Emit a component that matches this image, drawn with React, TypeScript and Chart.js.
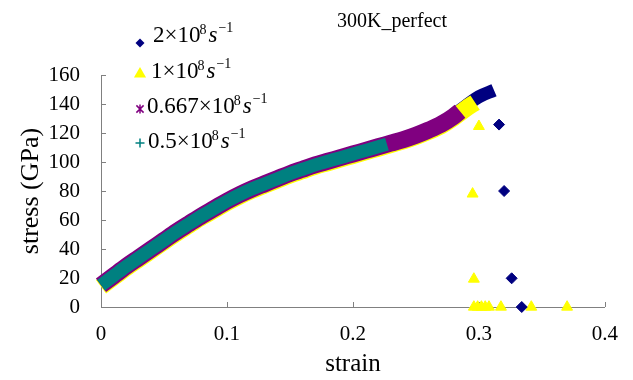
import React, { useEffect, useRef } from 'react';
import { Chart, registerables } from 'chart.js';

Chart.register(...registerables);

const FONT = '"Liberation Serif", "Times New Roman", serif';

const chartTitle = '300K_perfect';
const xAxisTitle = 'strain';
const yAxisTitle = 'stress (GPa)';
const xTicks = [0, 0.1, 0.2, 0.3, 0.4];
const yTicks = [0, 20, 40, 60, 80, 100, 120, 140, 160];

const rateLabels = ['2', '1', '0.667', '0.5'];
const rateColors = ['#000080', '#FFFF00', '#800080', '#008080'];

// 2×10^8 s^-1 (navy diamonds)
const strain2 = [0, 0.01, 0.02, 0.03, 0.04, 0.05, 0.06, 0.07, 0.08, 0.09, 0.1, 0.11, 0.12, 0.13, 0.14, 0.15, 0.16, 0.17, 0.18, 0.19, 0.2, 0.21, 0.22, 0.23, 0.24, 0.25, 0.26, 0.27, 0.28, 0.29, 0.3, 0.312];
const stress2 = [15, 21.5, 28, 34, 40, 46, 52, 57.5, 63, 68, 73, 77.5, 81.5, 85, 88.5, 92, 95, 98, 100.5, 103, 105.5, 108, 110.5, 113, 115.5, 118.5, 122, 126.5, 132.5, 139, 145, 149.5];
const failStrain2 = [0.316, 0.32, 0.326, 0.334];
const failStress2 = [125.8, 80, 19.8, 0];

// 1×10^8 s^-1 (yellow triangles)
const strain1 = [0, 0.01, 0.02, 0.03, 0.04, 0.05, 0.06, 0.07, 0.08, 0.09, 0.1, 0.11, 0.12, 0.13, 0.14, 0.15, 0.16, 0.17, 0.18, 0.19, 0.2, 0.21, 0.22, 0.23, 0.24, 0.25, 0.26, 0.27, 0.28, 0.29, 0.297];
const stress1 = [14, 20.5, 27, 33, 39, 45, 51, 56.5, 62, 67, 72, 76.5, 80.5, 84, 87.5, 91, 94, 97, 99.5, 102, 104.5, 107, 109.5, 112, 114.5, 117.5, 121, 125, 130.5, 137, 141];
const failStrain1 = [0.3, 0.295, 0.296, 0.296, 0.299, 0.302, 0.305, 0.308, 0.3175, 0.3416, 0.37];
const failStress1 = [124.6, 78, 19.3, 0, 0, 0, 0, 0, 0, 0, 0];

// 0.667×10^8 s^-1 (purple stars)
const strain0667 = [0, 0.01, 0.02, 0.03, 0.04, 0.05, 0.06, 0.07, 0.08, 0.09, 0.1, 0.11, 0.12, 0.13, 0.14, 0.15, 0.16, 0.17, 0.18, 0.19, 0.2, 0.21, 0.22, 0.23, 0.24, 0.25, 0.26, 0.27, 0.28, 0.285];
const stress0667 = [15, 21.5, 28, 34, 40, 46, 52, 57.5, 63, 68, 73, 77.5, 81.5, 85, 88.5, 92, 95, 98, 100.5, 103, 105.5, 108, 110.5, 113, 115.5, 118.5, 122, 126, 131.5, 135];

// 0.5×10^8 s^-1 (teal crosses)
const strain05 = [0, 0.01, 0.02, 0.03, 0.04, 0.05, 0.06, 0.07, 0.08, 0.09, 0.1, 0.11, 0.12, 0.13, 0.14, 0.15, 0.16, 0.17, 0.18, 0.19, 0.2, 0.21, 0.22, 0.227];
const stress05 = [15, 21.5, 28, 34, 40, 46, 52, 57.5, 63, 68, 73, 77.5, 81.5, 85, 88.5, 92, 95, 98, 100.5, 103, 105.5, 108, 110.5, 112.3];

const pts = (xs: number[], ys: number[]) => xs.map((x, i) => ({ x, y: ys[i] }));

const curve = (label: string, xs: number[], ys: number[], color: string, width: number, order: number) => ({
  type: 'scatter' as const,
  label,
  data: pts(xs, ys),
  showLine: true,
  borderColor: color,
  backgroundColor: color,
  borderWidth: width,
  borderCapStyle: 'butt' as const,
  borderJoinStyle: 'round' as const,
  pointRadius: 0,
  pointHoverRadius: 0,
  cubicInterpolationMode: 'monotone' as const,
  clip: false as const,
  order,
});

const failures = (label: string, xs: number[], ys: number[], color: string, style: string, radius: number) => ({
  type: 'scatter' as const,
  label,
  data: pts(xs, ys),
  showLine: false,
  pointStyle: style,
  pointRadius: radius,
  pointHoverRadius: radius,
  pointBackgroundColor: color,
  pointBorderColor: color,
  pointBorderWidth: 1,
  clip: false as const,
  order: 0,
});

const drawMarker = (ctx: CanvasRenderingContext2D, kind: number, x: number, y: number) => {
  ctx.save();
  ctx.fillStyle = rateColors[kind];
  ctx.strokeStyle = rateColors[kind];
  ctx.lineWidth = 1.5;
  ctx.beginPath();
  if (kind === 0) {
    const r = 4.5;
    ctx.moveTo(x, y - r); ctx.lineTo(x + r, y); ctx.lineTo(x, y + r); ctx.lineTo(x - r, y); ctx.closePath(); ctx.fill();
  } else if (kind === 1) {
    const r = 7;
    ctx.moveTo(x, y - r); ctx.lineTo(x + r * 0.866, y + r / 2); ctx.lineTo(x - r * 0.866, y + r / 2); ctx.closePath(); ctx.fill();
  } else if (kind === 2) {
    const r = 4.5;
    ctx.moveTo(x - r * 0.8, y - r * 0.8); ctx.lineTo(x + r * 0.8, y + r * 0.8);
    ctx.moveTo(x + r * 0.8, y - r * 0.8); ctx.lineTo(x - r * 0.8, y + r * 0.8);
    ctx.moveTo(x, y - r); ctx.lineTo(x, y + r);
    ctx.stroke();
  } else {
    const r = 4.5;
    ctx.moveTo(x - r, y); ctx.lineTo(x + r, y);
    ctx.moveTo(x, y - r); ctx.lineTo(x, y + r);
    ctx.stroke();
  }
  ctx.restore();
};

const legendMarkerX = 140;
const legendMarkerY = [43, 74, 109, 143];
const legendTextX = [153, 151, 147, 148];
const legendBaselines = [42, 78, 113, 148];

const decorPlugin = {
  id: 'decor',
  beforeDatasetsDraw(chart: any) {
    const ctx = chart.ctx as CanvasRenderingContext2D;
    const xs = chart.scales.x;
    const ys = chart.scales.y;
    const { left, bottom } = chart.chartArea;
    ctx.save();
    ctx.strokeStyle = '#808080';
    ctx.lineWidth = 1;
    ctx.beginPath();
    xTicks.forEach((v) => {
      const px = Math.round(xs.getPixelForValue(v)) + 0.5;
      ctx.moveTo(px, bottom); ctx.lineTo(px, bottom - 5);
    });
    yTicks.forEach((v) => {
      const py = Math.round(ys.getPixelForValue(v)) + 0.5;
      ctx.moveTo(left, py); ctx.lineTo(left + 5, py);
    });
    ctx.stroke();
    ctx.restore();
  },
  afterDraw(chart: any) {
    const ctx = chart.ctx as CanvasRenderingContext2D;
    ctx.save();
    ctx.fillStyle = '#000';
    ctx.textBaseline = 'alphabetic';
    ctx.textAlign = 'left';
    ctx.font = `20px ${FONT}`;
    const tw = ctx.measureText(chartTitle).width;
    ctx.fillText(chartTitle, 392 - tw / 2, 27);

    rateLabels.forEach((m, i) => {
      const b = legendBaselines[i];
      drawMarker(ctx, i, legendMarkerX, legendMarkerY[i]);
      let x = legendTextX[i];
      ctx.font = `23px ${FONT}`;
      const main = `${m}×10`;
      ctx.fillText(main, x, b);
      x += ctx.measureText(main).width;
      ctx.font = `14px ${FONT}`;
      ctx.fillText('8', x - 1, b - 8);
      x += ctx.measureText('8').width;
      ctx.font = `italic 23px ${FONT}`;
      ctx.fillText('s', x + 1, b);
      x += ctx.measureText('s').width + 1;
      ctx.font = `14px ${FONT}`;
      ctx.fillText('\u22121', x + 1, b - 10);
    });
    ctx.restore();
  },
};

export default function App() {
  const ref = useRef<HTMLCanvasElement | null>(null);
  useEffect(() => {
    if (!ref.current) return;
    const chart = new Chart(ref.current, {
      type: 'scatter',
      data: {
        datasets: [
          failures('2e8 fail', failStrain2, failStress2, rateColors[0], 'rectRot', 5.5),
          failures('1e8 fail', failStrain1, failStress1, rateColors[1], 'triangle', 6.3),
          curve('0.5e8', strain05, stress05, rateColors[3], 13, 1),
          curve('0.667e8', strain0667, stress0667, rateColors[2], 17, 2),
          curve('1e8', strain1, stress1, rateColors[1], 17, 3),
          curve('2e8', strain2, stress2, rateColors[0], 13, 4),
        ] as any,
      },
      options: {
        animation: false,
        responsive: false,
        maintainAspectRatio: false,
        events: [],
        layout: { padding: { left: 0, right: 18, top: 75, bottom: 0 } },
        plugins: { legend: { display: false }, tooltip: { enabled: false }, title: { display: false } },
        scales: {
          x: {
            type: 'linear',
            min: 0,
            max: 0.4,
            afterFit: (s: any) => { s.height = 73; },
            afterBuildTicks: (s: any) => { s.ticks = xTicks.map((v) => ({ value: v })); },
            grid: { display: false, drawTicks: false },
            border: { display: true, color: '#808080', width: 1 },
            ticks: { padding: 15, color: '#000', font: { family: FONT, size: 21 }, maxRotation: 0, callback: (v: any) => String(v) },
            title: { display: true, text: xAxisTitle, color: '#000', font: { family: FONT, size: 25 }, padding: { top: 0, bottom: 1 } },
          },
          y: {
            type: 'linear',
            min: 0,
            max: 160,
            afterFit: (s: any) => { s.width = 101; },
            afterBuildTicks: (s: any) => { s.ticks = yTicks.map((v) => ({ value: v })); },
            grid: { display: false, drawTicks: false },
            border: { display: true, color: '#808080', width: 1 },
            ticks: { padding: 21, color: '#000', font: { family: FONT, size: 21 }, callback: (v: any) => String(v) },
            title: { display: true, text: yAxisTitle, color: '#000', font: { family: FONT, size: 26 }, padding: { top: 16, bottom: 0 } },
          },
        },
      } as any,
      plugins: [decorPlugin],
    });
    return () => chart.destroy();
  }, []);
  return (
    <div style={{ position: 'fixed', left: 0, top: 0, width: 633, height: 380, background: '#fff' }}>
      <canvas ref={ref} width={633} height={380} style={{ display: 'block' }} />
    </div>
  );
}
